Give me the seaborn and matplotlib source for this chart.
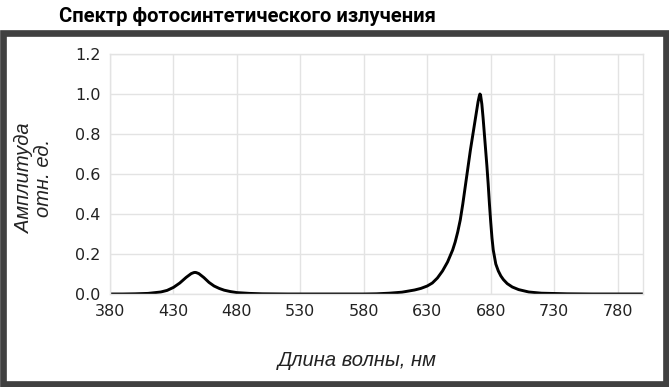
import matplotlib
matplotlib.use("Agg")
import matplotlib.pyplot as plt
import seaborn as sns
import pandas as pd
from matplotlib.patches import Rectangle

# ---- data ----
wavelength = [380, 390, 400, 410, 420, 425, 430, 435, 440, 444, 446, 447, 448, 450, 454, 458,
              462, 466, 470, 475, 480, 490, 500, 520, 550, 580, 590, 600, 610, 620, 625, 630,
              634, 638, 642, 646, 650, 652, 654, 656, 658, 660, 662, 664, 666, 668, 670, 671,
              671.5, 672, 673, 674, 675, 676, 677, 678, 679, 680, 681, 682, 684, 686, 688, 690,
              693, 697, 702, 710, 720, 740, 760, 800]
amplitude = [0.0, 0.0, 0.001, 0.003, 0.010, 0.018, 0.033, 0.055, 0.083, 0.102, 0.107, 0.108, 0.107,
             0.102, 0.082, 0.058, 0.040, 0.028, 0.019, 0.012, 0.007, 0.003, 0.001, 0.0, 0.0, 0.0,
             0.001, 0.004, 0.009, 0.020, 0.028, 0.040, 0.055, 0.080, 0.115, 0.160, 0.220, 0.260,
             0.310, 0.370, 0.450, 0.540, 0.630, 0.720, 0.800, 0.880, 0.960, 0.990, 1.0, 0.995,
             0.950, 0.880, 0.800, 0.720, 0.640, 0.550, 0.450, 0.360, 0.280, 0.220, 0.150, 0.115,
             0.090, 0.072, 0.052, 0.035, 0.022, 0.010, 0.004, 0.001, 0.0, 0.0]
x_ticks = [380, 430, 480, 530, 580, 630, 680, 730, 780]
y_ticks = [0.0, 0.2, 0.4, 0.6, 0.8, 1.0, 1.2]
title = "Спектр фотосинтетического излучения"
x_label = "Длина волны, нм"
y_label = "Амплитуда\nотн. ед."

df = pd.DataFrame({"wl": wavelength, "amp": amplitude})

sns.set_theme(style="whitegrid")
plt.rcParams["font.family"] = ["DejaVu Sans"]
plt.rcParams["font.sans-serif"] = ["DejaVu Sans"]

fig = plt.figure(figsize=(6.69, 3.87), dpi=100)
ax = fig.add_axes([110 / 669, 1 - 294 / 387, (643 - 110) / 669, (294 - 54) / 387])

sns.lineplot(data=df, x="wl", y="amp", color="black", linewidth=2.1, ax=ax, sort=True)

ax.set_xlim(380, 800)
ax.set_ylim(0, 1.2)
ax.set_xticks(x_ticks)
ax.set_xticklabels([str(t) for t in x_ticks], family="DejaVu Sans")
ax.set_yticks(y_ticks)
ax.set_yticklabels([f"{t:.1f}" for t in y_ticks], family="DejaVu Sans")
ax.tick_params(axis="both", labelsize=11.5, colors="#222222", length=0, pad=7)
ax.grid(True, color="#e3e3e3", linewidth=1.0)
for s in ax.spines.values():
    s.set_color("#e3e3e3")
    s.set_linewidth(1.0)
ax.set_xlabel("")
ax.set_ylabel("")

# axis titles
fig.text(357 / 669, 1 - 360 / 387, x_label, ha="center", va="center", fontsize=14.5,
         style="italic", family=["Liberation Sans", "DejaVu Sans"], color="#222222")
fig.text(34 / 669, 1 - 178 / 387, y_label, ha="center", va="center", fontsize=14.5,
         style="italic", rotation=90, linespacing=1.0,
         family=["Liberation Sans", "DejaVu Sans"], color="#222222")

# title
fig.text(247 / 669, 1 - 17 / 387, title, ha="center", va="center", fontsize=14.5,
         fontweight="bold", family=["Roboto", "Liberation Sans", "DejaVu Sans"],
         color="black")

# dark frame
fig.patches.append(Rectangle((3 / 669, 3.5 / 387), 663 / 669, (383.5 - 32.5) / 387,
                             transform=fig.transFigure, fill=False,
                             edgecolor="#404040", linewidth=4.8))

fig.savefig("out.png", dpi=100)
